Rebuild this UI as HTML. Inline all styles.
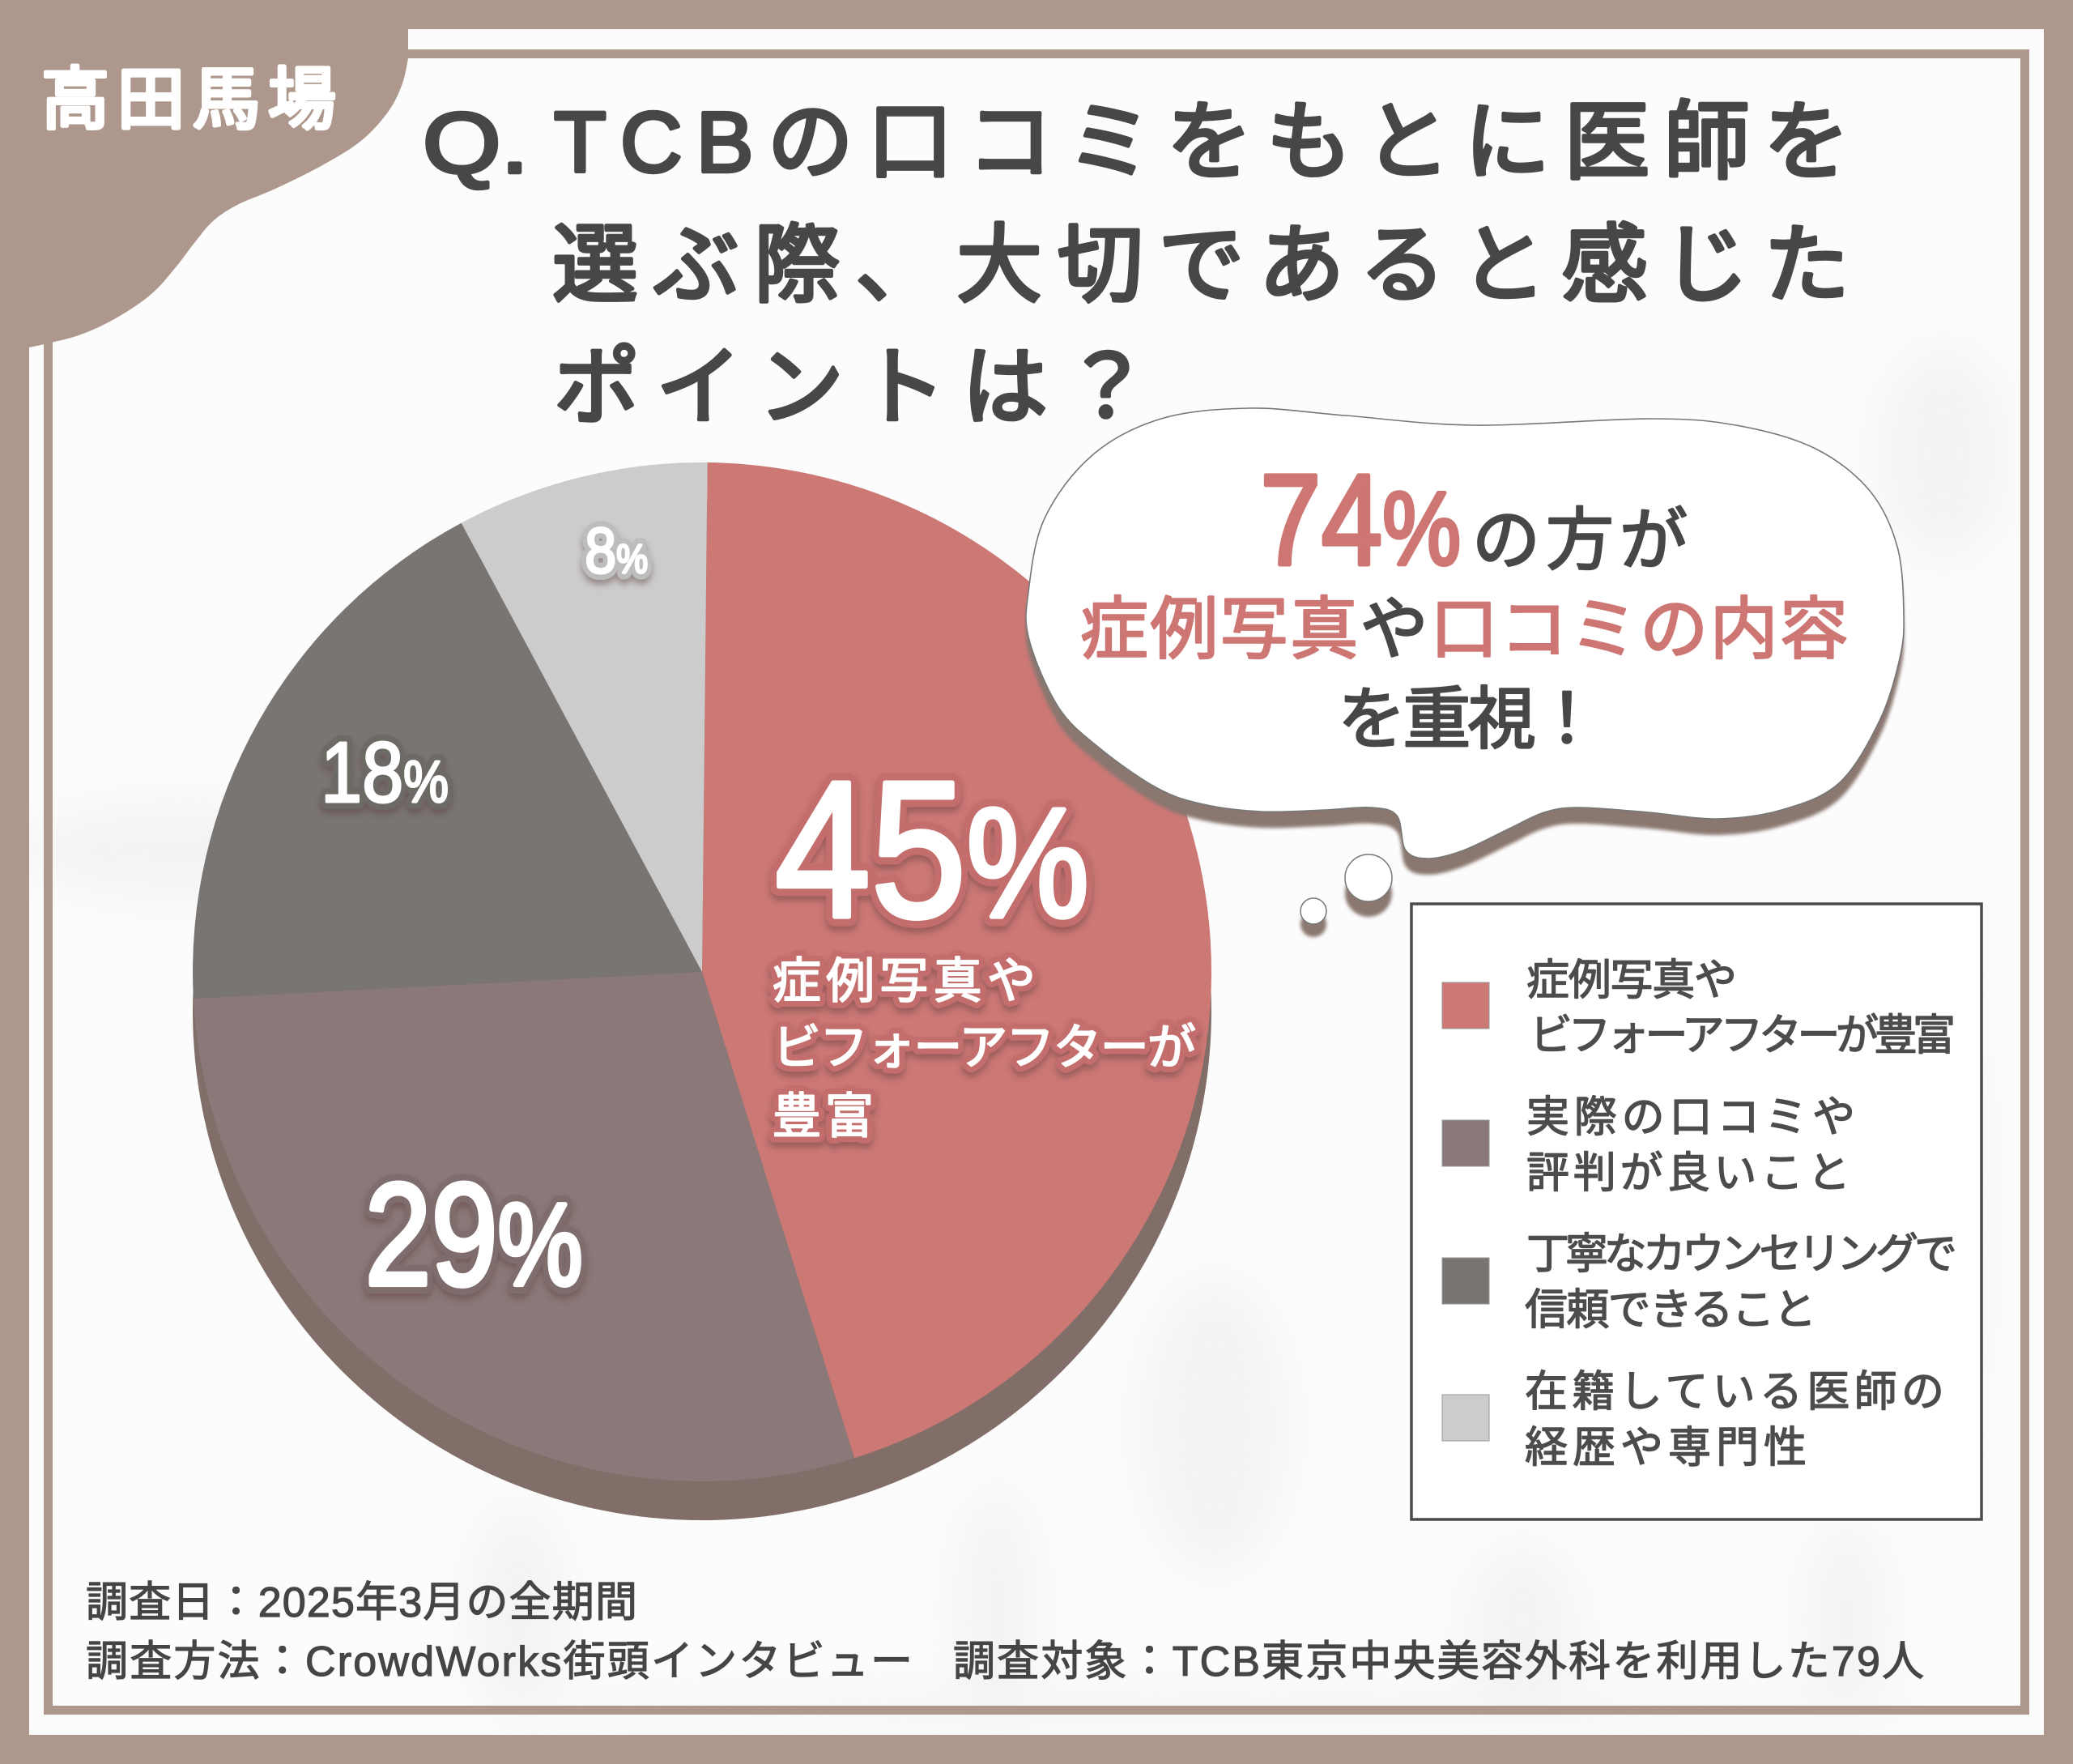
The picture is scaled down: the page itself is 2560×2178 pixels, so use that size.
<!DOCTYPE html>
<html lang="ja">
<head>
<meta charset="utf-8">
<title>TCB 高田馬場 アンケート</title>
<style>
html,body{margin:0;padding:0;background:#ad978d;}
svg{display:block;}
text{font-family:"Liberation Sans","Noto Sans CJK JP",sans-serif;}
.title{font-size:106px;fill:#474747;stroke:#474747;stroke-width:4.5px;stroke-linejoin:round;}
.bub{font-size:84px;fill:#474747;stroke:#474747;stroke-width:2.5px;stroke-linejoin:round;}
.pink{fill:#cd7673;stroke:#cd7673;}
.leg{font-size:53px;fill:#4c4c4c;stroke:#4c4c4c;stroke-width:1.4px;stroke-linejoin:round;}
.foot{font-size:52px;fill:#454545;stroke:#454545;stroke-width:1.2px;}
.sub-o{font-size:60px;fill:#c36e6c;stroke:#c36e6c;stroke-width:16px;stroke-linejoin:round;}
.sub-t{font-size:60px;fill:#fff;stroke:#fff;stroke-width:2px;stroke-linejoin:round;}
</style>
</head>
<body>
<svg id="chart" xmlns="http://www.w3.org/2000/svg" width="2560" height="2178" viewBox="0 0 2560 2178">
  <defs>
    <filter id="soft" x="-60%" y="-30%" width="220%" height="160%"><feGaussianBlur stdDeviation="28"/></filter>
    <filter id="sh" x="-10%" y="-10%" width="120%" height="130%"><feGaussianBlur stdDeviation="2"/></filter>
    <filter id="lab" x="-20%" y="-20%" width="140%" height="150%"><feDropShadow dx="0" dy="6" stdDeviation="4" flood-color="#5a3a3a" flood-opacity="0.45"/></filter>
    <clipPath id="panel"><rect x="36" y="36" width="2488" height="2106"/></clipPath>
  </defs>

  <rect width="2560" height="2178" fill="#ae988d"/>
  <rect x="36" y="36" width="2488" height="2106" fill="#fcfcfc"/>

  <g clip-path="url(#panel)" filter="url(#soft)" fill="#ececec" opacity="0.55">
    <ellipse cx="230" cy="1050" rx="200" ry="60"/>
    <ellipse cx="2390" cy="1500" rx="60" ry="300"/>
    <ellipse cx="1500" cy="1760" rx="90" ry="180"/>
    <ellipse cx="1230" cy="1990" rx="50" ry="150"/>
    <ellipse cx="640" cy="1990" rx="60" ry="130"/>
    <ellipse cx="1880" cy="2020" rx="70" ry="110"/>
    <ellipse cx="2280" cy="2000" rx="50" ry="120"/>
    <ellipse cx="2400" cy="560" rx="80" ry="130"/>
    <ellipse cx="1500" cy="2110" rx="900" ry="20"/>
  </g>

  <rect x="59.5" y="66.5" width="2441" height="2045" fill="none" stroke="#ae988d" stroke-width="11"/>

  <path id="tag" fill="#ae988d"/>
  <text x="51" y="152" font-size="84" fill="#fff" stroke="#fff" stroke-width="5" stroke-linejoin="round" textLength="364">高田馬場</text>

  <g>
    <text class="title" x="522" y="213" textLength="131" lengthAdjust="spacingAndGlyphs">Q.</text>
    <text class="title" x="684" y="212" textLength="1600">TCBの口コミをもとに医師を</text>
    <text class="title" x="682" y="364" textLength="1602">選ぶ際、大切であると感じた</text>
    <text class="title" x="684" y="515" textLength="736">ポイントは？</text>
  </g>

  <g id="pie"></g>

  <g>
    <path id="bubble-shadow" fill="#8a7770" filter="url(#sh)" transform="translate(0,20)"/>
    <path id="bubble" fill="#fff" stroke="#777" stroke-width="1.6"/>
    <circle cx="1690" cy="1103" r="29" fill="#8a7770" filter="url(#sh)"/>
    <circle cx="1690" cy="1084" r="29" fill="#fff" stroke="#777" stroke-width="1.5"/>
    <circle cx="1622" cy="1141" r="16" fill="#8a7770" filter="url(#sh)"/>
    <circle cx="1622" cy="1125" r="16" fill="#fff" stroke="#777" stroke-width="1.5"/>
    <text x="1556" y="697" font-size="160" fill="#cd7673" stroke="#cd7673" stroke-width="5" stroke-linejoin="round" textLength="248" lengthAdjust="spacingAndGlyphs">74<tspan font-size="128">%</tspan></text>
    <text class="bub" x="1818" y="696" textLength="266">の方が</text>
    <text class="bub" x="1334" y="806" textLength="948"><tspan class="pink">症例写真</tspan>や<tspan class="pink">口コミの内容</tspan></text>
    <text class="bub" x="1652" y="917" textLength="325">を重視！</text>
  </g>

  <g>
    <rect x="1743" y="1116" width="704" height="760" fill="#fff" stroke="#4a4a4a" stroke-width="3.5"/>
    <rect x="1781" y="1213" width="58" height="57" fill="#cc7875" stroke="#999" stroke-width="1"/>
    <rect x="1781" y="1383" width="58" height="57" fill="#8b7878" stroke="#999" stroke-width="1"/>
    <rect x="1781" y="1553" width="58" height="57" fill="#797572" stroke="#999" stroke-width="1"/>
    <rect x="1781" y="1722" width="58" height="57" fill="#cccccc" stroke="#999" stroke-width="1"/>
    <text class="leg" x="1885" y="1228" textLength="260">症例写真や</text>
    <text class="leg" x="1889" y="1296" textLength="526">ビフォーアフターが豊富</text>
    <text class="leg" x="1885" y="1397" textLength="406">実際の口コミや</text>
    <text class="leg" x="1885" y="1466" textLength="400">評判が良いこと</text>
    <text class="leg" x="1885" y="1566" textLength="532">丁寧なカウンセリングで</text>
    <text class="leg" x="1883" y="1635" textLength="360">信頼できること</text>
    <text class="leg" x="1883" y="1736" textLength="518">在籍している医師の</text>
    <text class="leg" x="1883" y="1805" textLength="348">経歴や専門性</text>
  </g>

  <g>
    <text class="foot" x="106" y="1996" textLength="681">調査日：2025年3月の全期間</text>
    <text class="foot" x="106" y="2069" textLength="1021">調査方法：CrowdWorks街頭インタビュー</text>
    <text class="foot" x="1177" y="2069" textLength="1199">調査対象：TCB東京中央美容外科を利用した79人</text>
  </g>
</svg>

<script>
const categories = ["症例写真やビフォーアフターが豊富", "実際の口コミや評判が良いこと", "丁寧なカウンセリングで信頼できること", "在籍している医師の経歴や専門性"];
const values = [45, 29, 18, 8];
const highlightLines = ["症例写真や", "ビフォーアフターが", "豊富"];

const NS = "http://www.w3.org/2000/svg";

function angleScale(pct, total) {
  return (0.6 + pct / total * 360) * Math.PI / 180;
}
function polar(cx, cy, r, a) {
  return [cx + r * Math.sin(a), cy - r * Math.cos(a)];
}
function smooth(pts, closed) {
  const n = pts.length;
  const at = i => closed ? pts[(i + n) % n] : pts[Math.max(0, Math.min(n - 1, i))];
  let d = "M" + pts[0][0] + "," + pts[0][1];
  const segs = closed ? n : n - 1;
  for (let i = 0; i < segs; i++) {
    const p0 = at(i - 1), p1 = at(i), p2 = at(i + 1), p3 = at(i + 2);
    const c1 = [p1[0] + (p2[0] - p0[0]) / 6, p1[1] + (p2[1] - p0[1]) / 6];
    const c2 = [p2[0] - (p3[0] - p1[0]) / 6, p2[1] - (p3[1] - p1[1]) / 6];
    d += "C" + c1[0].toFixed(1) + "," + c1[1].toFixed(1) + " " + c2[0].toFixed(1) + "," + c2[1].toFixed(1) + " " + p2[0] + "," + p2[1];
  }
  return d;
}

function drawDecor() {
  const tagEdge = [[504,72],[497,103],[480,137],[447,173],[400,203],[340,233],[293,253],[263,273],[240,300],[217,330],[187,363],[143,393],[100,413],[63,423],[36,429]];
  document.getElementById("tag").setAttribute("d", "M0,0L504,0" + smooth(tagEdge, false).replace(/^M/, "L") + "L0,429Z");
  const outline = [[1270,731],[1290,640],[1349,562],[1434,517],[1543,504],[1661,513],[1821,525],[2040,517],[2149,526],[2242,554],[2309,606],[2343,675],[2351,758],[2346,813],[2321,890],[2271,967],[2200,1000],[2121,1011],[2036,1003],[1950,997],[1907,1003],[1864,1023],[1807,1050],[1764,1060],[1736,1050],[1725,1007],[1693,997],[1636,1000],[1557,1002],[1486,993],[1429,973],[1357,923],[1307,873],[1271,790]];
  const d = smooth(outline, true) + "Z";
  document.getElementById("bubble").setAttribute("d", d);
  document.getElementById("bubble-shadow").setAttribute("d", d);
}

function drawPie() {
  const root = document.getElementById("pie");
  const cx = 867, cy = 1200, r = 629, depth = 48;
  const sliceColors = ["#cc7875", "#8b7878", "#797572", "#cccccc"];
  const total = values.reduce((a, b) => a + b, 0);

  const side = document.createElementNS(NS, "circle");
  
  
  side.setAttribute("cx", cx);
  side.setAttribute("cy", cy + depth);
  side.setAttribute("r", r);
  side.setAttribute("fill", "#826e68");
  root.appendChild(side);

  let cum = 0;
  const mids = [];
  values.forEach((v, i) => {
    const a0 = angleScale(cum, total), a1 = angleScale(cum + v, total);
    const p0 = polar(cx, cy, r, a0), p1 = polar(cx, cy, r, a1);
    const large = (a1 - a0) > Math.PI ? 1 : 0;
    const path = document.createElementNS(NS, "path");
    
    
    path.setAttribute("d", "M" + cx + "," + cy + "L" + p0[0] + "," + p0[1] + "A" + r + "," + r + " 0 " + large + " 1 " + p1[0] + "," + p1[1] + "Z");
    path.setAttribute("fill", sliceColors[i]);
    const tip = document.createElementNS(NS, "title");
    tip.textContent = categories[i];
    path.appendChild(tip);
    root.appendChild(path);
    mids.push((a0 + a1) / 2);
    cum += v;
  });

  const dist = [290, 480, 450, 490];
  const nudge = [[-3, -26], [-8, -8], [0, 11], [11, -17]];
  const fontSize = [240, 180, 106, 80];
  const pctScale = [0.8, 0.8, 0.68, 0.62];
  const fitWidth = [388, 269, 158, 78];
  const outlineColor = ["#c36e6c", "#7f6c6c", "#6d6a65", "#bdbdbd"];
  const outlineWidth = [16, 14, 10, 8];

  values.forEach((v, i) => {
    const pos = polar(cx, cy, dist[i], mids[i]);
    const x = pos[0] + nudge[i][0], y = pos[1] + nudge[i][1];
    const g = document.createElementNS(NS, "g");
    
    
    g.setAttribute("filter", "url(#lab)");
    [["outline", outlineColor[i], outlineWidth[i]], ["fill", "#ffffff", i < 2 ? 6 : 3]].forEach(layer => {
      const t = document.createElementNS(NS, "text");
      t.setAttribute("x", x);
      t.setAttribute("y", y);
      t.setAttribute("text-anchor", "middle");
      t.setAttribute("font-size", fontSize[i]);
      t.setAttribute("fill", layer[1]);
      t.setAttribute("stroke", layer[1]);
      t.setAttribute("stroke-width", layer[0] === "outline" ? layer[2] + 8 : layer[2]);
      t.setAttribute("stroke-linejoin", "round");
      t.setAttribute("textLength", fitWidth[i]);
      t.setAttribute("lengthAdjust", "spacingAndGlyphs");
      t.appendChild(document.createTextNode(String(v)));
      const pct = document.createElementNS(NS, "tspan");
      pct.setAttribute("font-size", fontSize[i] * pctScale[i]);
      pct.textContent = "%";
      t.appendChild(pct);
      g.appendChild(t);
    });
    root.appendChild(g);

    if (i === 0) {
      const sub = document.createElementNS(NS, "g");
      
      
      sub.setAttribute("filter", "url(#lab)");
      const lineWidth = [325, 523, 125];
      const lineDx = [-197, -197, -197];
      const lineY = [1232, 1314, 1399];
      ["sub-o", "sub-t"].forEach(cls => {
        highlightLines.forEach((line, k) => {
          const t = document.createElementNS(NS, "text");
          t.setAttribute("class", cls);
          t.setAttribute("x", x + lineDx[k]);
          t.setAttribute("y", lineY[k]);
          t.setAttribute("textLength", lineWidth[k]);
          t.textContent = line;
          sub.appendChild(t);
        });
      });
      root.appendChild(sub);
    }
  });
}

drawDecor();
drawPie();
</script>
</body>
</html>
